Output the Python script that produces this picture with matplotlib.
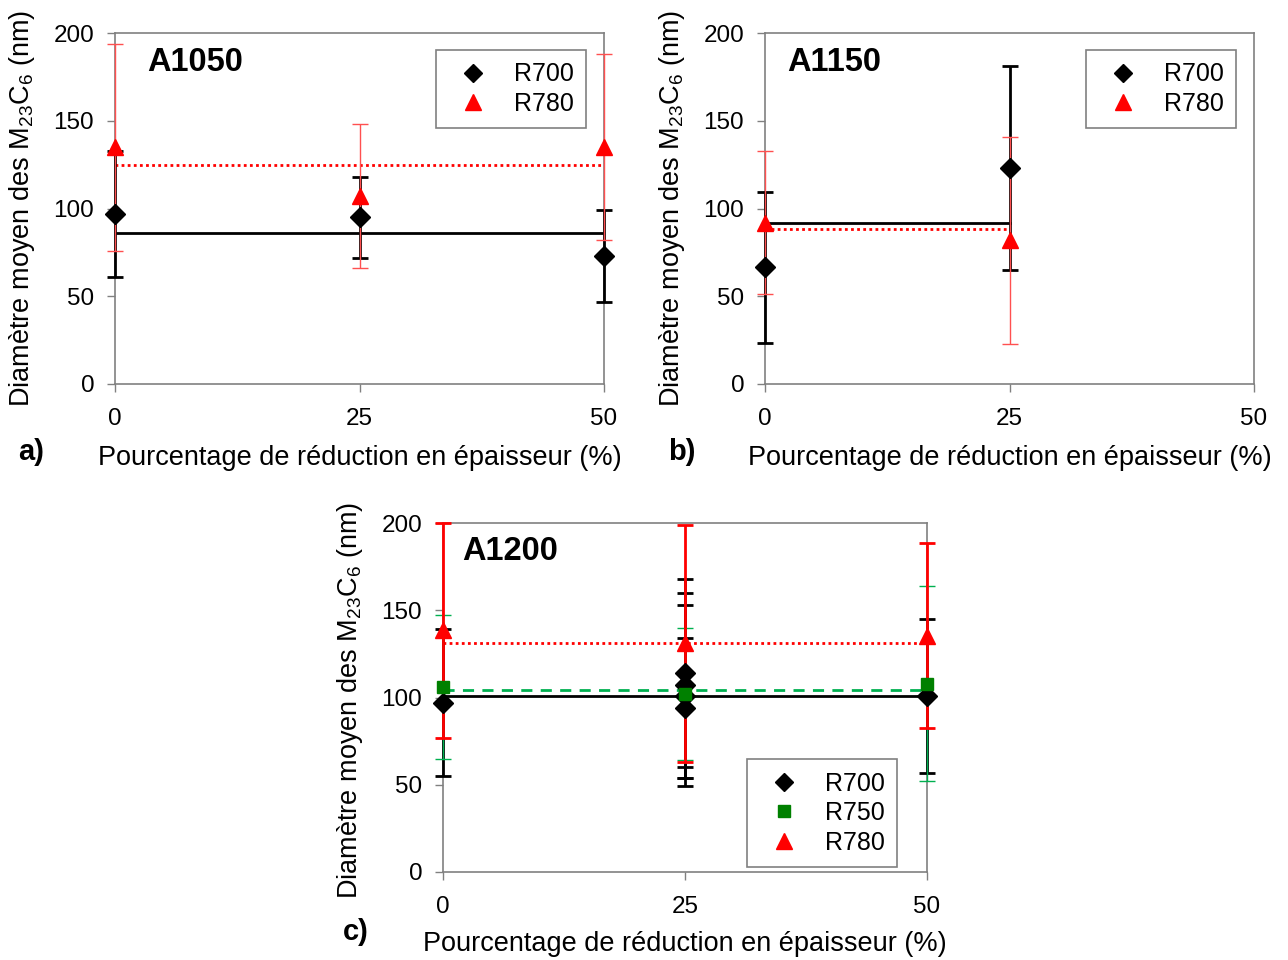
import matplotlib
matplotlib.use('Agg')
import matplotlib.pyplot as plt
from matplotlib.lines import Line2D

plt.rcParams['font.family'] = ['Liberation Sans', 'DejaVu Sans']
plt.rcParams['mathtext.fontset'] = 'custom'
plt.rcParams['mathtext.rm'] = 'Liberation Sans'
plt.rcParams['mathtext.it'] = 'Liberation Sans:italic'
plt.rcParams['mathtext.bf'] = 'Liberation Sans:bold'

# ---------------- data ----------------
x_ticks = [0, 25, 50]
y_ticks = [0, 50, 100, 150, 200]
x_label = "Pourcentage de réduction en épaisseur (%)"
y_label = r"Diamètre moyen des M$_{23}$C$_6$ (nm)"

# Panel a) A1050
a_x = [0, 25, 50]
a_r700 = [97, 95, 73]
a_r700_err = [36, 23, 26]
a_r780 = [135, 107, 135]
a_r780_err = [59, 41, 53]
a_mean_x = [0, 50]
a_mean_r700 = 86
a_mean_r780 = 125

# Panel b) A1150
b_x = [0, 25]
b_r700 = [66.5, 123]
b_r700_err = [43, 58]
b_r780 = [92, 82]
b_r780_err = [41, 59]
b_mean_x = [0, 25]
b_mean_r700 = 92
b_mean_r780 = 88.5

# Panel c) A1200
c_r700_x = [0, 25, 25, 25, 25, 50]
c_r700 = [97, 114, 107, 101, 94, 101]
c_r700_err = [42, 54, 53, 52, 40, 44]
c_r750_x = [0, 25, 50]
c_r750 = [106, 102, 108]
c_r750_err = [41, 38, 56]
c_r780_x = [0, 25, 50]
c_r780 = [138.5, 131, 135.5]
c_r780_err = [61.5, 68, 53]
c_mean_x = [0, 50]
c_mean_r700 = 101
c_mean_r750 = 104.5
c_mean_r780 = 131.3

# ---------------- styles ----------------
BLACK = 'black'
RED = '#FF0000'
GREEN_M = '#008000'
GREEN_L = '#00B050'
FRAME = '#808080'
TICK_FS = 17.5
LABEL_FS = 19.5
TITLE_FS = 23.5
LEG_FS = 18
PANEL_FS = 21

fig = plt.figure(figsize=(12.88, 9.6), dpi=100)
W, H = 1288.0, 960.0


def make_ax(l, r, t, b):
    return fig.add_axes([l / W, 1 - b / H, (r - l) / W, (b - t) / H])


def style_ax(ax):
    ax.set_xlim(0, 50)
    ax.set_ylim(0, 200)
    ax.set_xticks(x_ticks)
    ax.set_yticks(y_ticks)
    ax.tick_params(direction='out', length=6, width=1, color=FRAME,
                   labelsize=TICK_FS)
    ax.tick_params(axis='x', pad=11)
    ax.tick_params(axis='y', pad=9)
    for s in ax.spines.values():
        s.set_color(FRAME)
        s.set_linewidth(1.2)


def eb(ax, x, y, e, color, lw, z, cap=6):
    c = ax.errorbar(x, y, yerr=e, fmt='none', ecolor=color, elinewidth=lw,
                    capsize=cap, capthick=lw, zorder=z)
    for art in list(c.lines[1]) + list(c.lines[2]):
        art.set_clip_on(False)


def legend(ax, items, loc, anchor):
    handles = [Line2D([], [], linestyle='none', marker=m, color=c,
                      markersize=s) for m, c, s, _ in items]
    labels = [t for _, _, _, t in items]
    lg = ax.legend(handles, labels, loc=loc, bbox_to_anchor=anchor,
                   fontsize=LEG_FS, frameon=True, fancybox=False,
                   handletextpad=0.66, borderpad=0.5, labelspacing=0.22,
                   handlelength=1.96, borderaxespad=0, framealpha=1)
    lg.get_frame().set_edgecolor(FRAME)
    lg.get_frame().set_linewidth(1.2)
    lg.set_zorder(20)


# ---------- panel a ----------
ax = make_ax(115, 604, 33, 384)
style_ax(ax)
ax.plot(a_mean_x, [a_mean_r700] * 2, color=BLACK, lw=2, zorder=3)
ax.plot(a_mean_x, [a_mean_r780] * 2, color=RED, lw=2, ls=(0, (1, 1.2)), zorder=3)
eb(ax, a_x, a_r700, a_r700_err, BLACK, 2, 4)
eb(ax, a_x, a_r780, a_r780_err, '#FF5050', 1, 5)
ax.plot(a_x, a_r700, 'D', color=BLACK, ms=10, zorder=6, clip_on=False)
ax.plot(a_x, a_r780, '^', color=RED, ms=12, zorder=7, clip_on=False)
ax.text(0.065, 0.917, 'A1050', transform=ax.transAxes, fontsize=TITLE_FS,
        fontweight='bold', va='center', ha='left')
legend(ax, [('D', BLACK, 9, 'R700'), ('^', RED, 11, 'R780')],
       'upper right', (0.963, 0.952))
fig.text(360 / W, 1 - 458 / H, x_label, fontsize=LABEL_FS, ha='center', va='center')
fig.text(22 / W, 1 - 208 / H, y_label, fontsize=LABEL_FS, ha='center', va='center',
         rotation=90)
fig.text(31 / W, 1 - 452 / H, 'a)', fontsize=PANEL_FS, fontweight='bold', ha='center', va='center')

# ---------- panel b ----------
ax = make_ax(765, 1254, 33, 384)
style_ax(ax)
ax.plot(b_mean_x, [b_mean_r700] * 2, color=BLACK, lw=2, zorder=3)
ax.plot(b_mean_x, [b_mean_r780] * 2, color=RED, lw=2, ls=(0, (1, 1.2)), zorder=3)
eb(ax, b_x, b_r700, b_r700_err, BLACK, 2, 4)
eb(ax, b_x, b_r780, b_r780_err, '#FF5050', 1, 5)
ax.plot(b_x, b_r700, 'D', color=BLACK, ms=10, zorder=6, clip_on=False)
ax.plot(b_x, b_r780, '^', color=RED, ms=12, zorder=7, clip_on=False)
ax.text(0.045, 0.917, 'A1150', transform=ax.transAxes, fontsize=TITLE_FS,
        fontweight='bold', va='center', ha='left')
legend(ax, [('D', BLACK, 9, 'R700'), ('^', RED, 11, 'R780')],
       'upper right', (0.964, 0.952))
fig.text(1010 / W, 1 - 458 / H, x_label, fontsize=LABEL_FS, ha='center', va='center')
fig.text(672 / W, 1 - 208 / H, y_label, fontsize=LABEL_FS, ha='center', va='center',
         rotation=90)
fig.text(682 / W, 1 - 452 / H, 'b)', fontsize=PANEL_FS, fontweight='bold', ha='center', va='center')

# ---------- panel c ----------
ax = make_ax(443, 927, 523, 872)
style_ax(ax)
ax.plot(c_mean_x, [c_mean_r700] * 2, color=BLACK, lw=2, zorder=3)
ax.plot(c_mean_x, [c_mean_r750] * 2, color=GREEN_L, lw=2, ls=(0, (4, 3)), zorder=3)
ax.plot(c_mean_x, [c_mean_r780] * 2, color=RED, lw=2, ls=(0, (1, 1.2)), zorder=3)
eb(ax, c_r700_x, c_r700, c_r700_err, BLACK, 2, 4)
eb(ax, c_r750_x, c_r750, c_r750_err, GREEN_L, 1, 4.5)
eb(ax, c_r780_x, c_r780, c_r780_err, RED, 2, 5)
ax.plot(c_r700_x, c_r700, 'D', color=BLACK, ms=10, zorder=6, clip_on=False)
ax.plot(c_r750_x, c_r750, 's', color=GREEN_M, ms=9, zorder=6.5, clip_on=False)
ax.plot(c_r780_x, c_r780, '^', color=RED, ms=12, zorder=7, clip_on=False)
ax.text(0.04, 0.917, 'A1200', transform=ax.transAxes, fontsize=TITLE_FS,
        fontweight='bold', va='center', ha='left')
legend(ax, [('D', BLACK, 9, 'R700'), ('s', GREEN_M, 9, 'R750'), ('^', RED, 11, 'R780')],
       'lower right', (0.938, 0.014))
fig.text(685 / W, 1 - 944 / H, x_label, fontsize=LABEL_FS, ha='center', va='center')
fig.text(350 / W, 1 - 700 / H, y_label, fontsize=LABEL_FS, ha='center', va='center',
         rotation=90)
fig.text(356 / W, 1 - 932 / H, 'c)', fontsize=PANEL_FS, fontweight='bold', ha='center', va='center')

fig.savefig('out.png', dpi=100, facecolor='white')
